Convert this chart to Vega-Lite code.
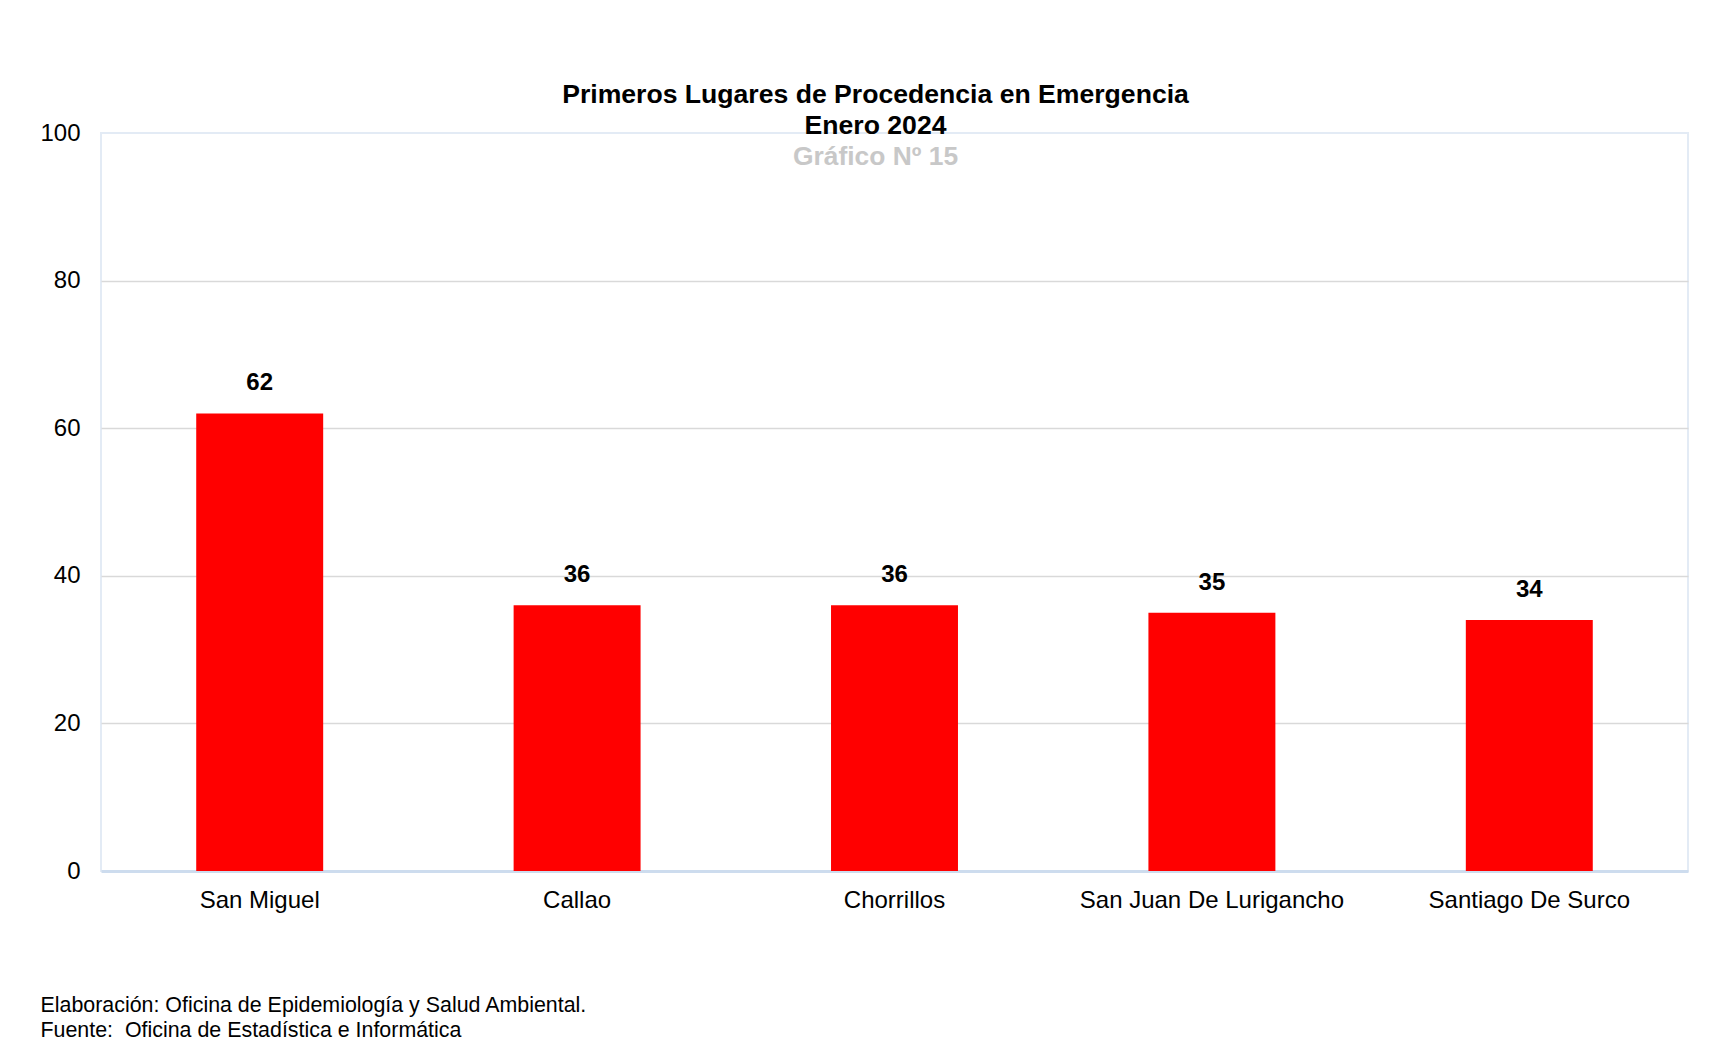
{
  "$schema": "https://vega.github.io/schema/vega-lite/v6.json",
  "width": 1587,
  "height": 738,
  "autosize": {"type": "none"},
  "padding": {"left": 101, "top": 133, "right": 36, "bottom": 182},
  "background": "white",
  "data": {
    "values": [
      {"lugar": "San Miguel", "casos": 62},
      {"lugar": "Callao", "casos": 36},
      {"lugar": "Chorrillos", "casos": 36},
      {"lugar": "San Juan De Lurigancho", "casos": 35},
      {"lugar": "Santiago De Surco", "casos": 34}
    ]
  },
  "title": {
    "text": ["Primeros Lugares de Procedencia en Emergencia", "Enero 2024"],
    "subtitle": "Gráfico Nº 15",
    "font": "Liberation Sans",
    "fontSize": 26.6,
    "fontWeight": "bold",
    "color": "#000000",
    "lineHeight": 31,
    "subtitleFont": "Liberation Sans",
    "subtitleFontSize": 26.4,
    "subtitleFontWeight": "bold",
    "subtitleColor": "#c8c8c8",
    "subtitlePadding": 4,
    "anchor": "middle",
    "frame": "group",
    "dx": -19,
    "offset": -49
  },
  "config": {
    "view": {"stroke": "#e3ebf5", "strokeWidth": 2},
    "axis": {
      "labelFont": "Liberation Sans",
      "labelFontSize": 24,
      "labelColor": "#000000",
      "labelLimit": 0,
      "ticks": false
    }
  },
  "layer": [
    {
      "mark": {"type": "bar", "color": "#ff0000"},
      "encoding": {
        "x": {
          "field": "lugar",
          "type": "nominal",
          "sort": null,
          "scale": {"paddingInner": 0.6, "paddingOuter": 0.3},
          "axis": {
            "labelAngle": 0,
            "labelPadding": 17,
            "labelBaseline": "top",
            "labelLimit": 0,
            "domain": true,
            "domainColor": "#cddcee",
            "domainWidth": 3,
            "title": ["Elaboración: Oficina de Epidemiología y Salud Ambiental.", "Fuente:\u00a0 Oficina de Estadística e Informática"],
            "titleFont": "Liberation Sans",
            "titleFontSize": 21.4,
            "titleFontWeight": "normal",
            "titleColor": "#000000",
            "titleLineHeight": 25,
            "titleAnchor": "start",
            "titleAlign": "left",
            "titleBaseline": "top",
            "titleX": -61,
            "titleY": 123
          }
        },
        "y": {
          "field": "casos",
          "type": "quantitative",
          "scale": {"domain": [0, 100], "nice": false},
          "axis": {
            "values": [0, 20, 40, 60, 80, 100],
            "title": null,
            "domain": false,
            "labelPadding": 21,
            "gridColor": {
              "condition": {"test": "datum.value >= 100 || datum.value <= 0", "value": "transparent"},
              "value": "#d9d9d9"
            },
            "gridWidth": 1.5
          }
        }
      }
    },
    {
      "mark": {
        "type": "text",
        "font": "Liberation Sans",
        "fontSize": 24,
        "fontWeight": "bold",
        "color": "#000000",
        "baseline": "middle",
        "dy": -30
      },
      "encoding": {
        "x": {"field": "lugar", "type": "nominal", "sort": null},
        "y": {"field": "casos", "type": "quantitative"},
        "text": {"field": "casos", "type": "quantitative"}
      }
    }
  ]
}
